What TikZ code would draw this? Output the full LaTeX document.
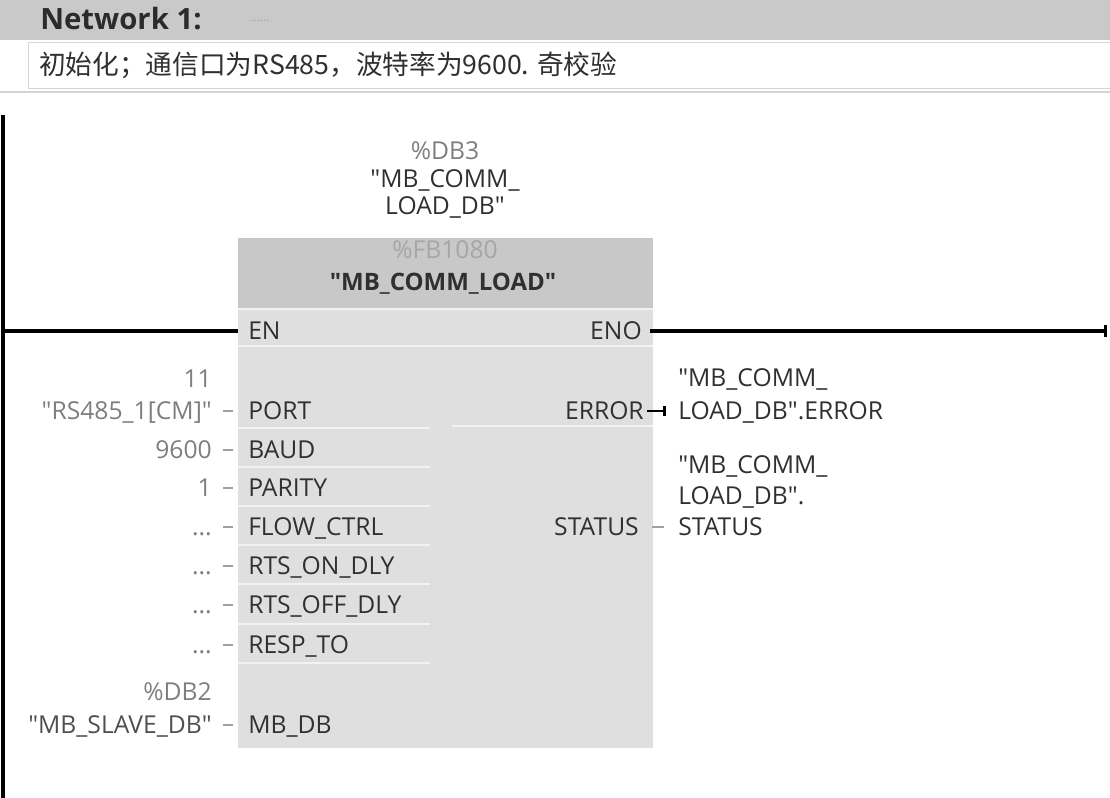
\documentclass[tikz,border=0pt]{standalone}
\usepackage{fontspec}
\setmainfont{Open Sans}[Ligatures=TeXOff]
\newfontfamily\cjk{Noto Sans CJK SC}
\usepackage{tikz}
\usetikzlibrary{positioning,calc,arrows.meta}

\definecolor{barfill}{HTML}{C9C9C9}
\definecolor{fbhead}{HTML}{C8C8C8}
\definecolor{fbbody}{HTML}{DFDFDF}
\definecolor{sepwhite}{HTML}{F2F2F2}
\definecolor{txtdark}{HTML}{303030}
\definecolor{opgray}{HTML}{7E7E7E}
\definecolor{txtlight}{HTML}{A6A6A6}
\definecolor{stubgray}{HTML}{A0A0A0}
\definecolor{boxline}{HTML}{D4D4D4}

\begin{document}
\begin{tikzpicture}[x=0.75pt,y=-0.75pt,
    lbl/.style={font=\fontsize{18.5}{22}\selectfont, inner sep=0pt, text height=13.2pt, text depth=0pt},
    pinname/.style={lbl, text=txtdark},
    operand/.style={lbl, text=opgray, anchor=east},
    outtxt/.style={lbl, text=txtdark, anchor=west},
    wire/.style={line width=2.4pt, black},
    stub/.style={line width=1.3pt, stubgray},
    rowsep/.style={line width=1.6pt, sepwhite}]

    \useasboundingbox (0,0) rectangle (1110,798);

    % Title bar
    \fill[barfill] (0,0) rectangle (1110,40);
    \node[anchor=west, inner sep=0pt, text=txtdark!90!black, font=\fontsize{22}{26}\selectfont\bfseries] (title) at (40,19) {Network 1:};
    \node[anchor=west, inner sep=0pt, text=txtlight, font=\fontsize{9}{10}\selectfont] (titledots) at (250,21) {......};

    % Comment line
    \draw[boxline, fill=white] (28,42) rectangle (1113,88);
    \node[anchor=west, inner sep=0pt, text=txtdark, font=\cjk\fontsize{20}{23}\selectfont] (comment) at (39,65) {初始化；通信口为RS485，波特率为9600. 奇校验};
    \draw[boxline, line width=1pt] (0,92) -- (1110,92);

    % Power rail
    \draw[line width=2.6pt] (3,115) -- (3,798);

    % Instance DB above the box
    \node[lbl, text=opgray] (idb) at (445,151) {\%DB3};
    \node[lbl, text=txtdark] (idbname) at (445,179) {"MB\_COMM\_};
    \node[lbl, text=txtdark] (idbname2) at (445,206) {LOAD\_DB"};

    % Function block
    \fill[fbhead] (238,238) rectangle (653,308);
    \fill[fbbody] (238,308) rectangle (653,748);
    \node[lbl, text=txtlight] (fbno) at (445,250) {\%FB1080};
    \node[inner sep=0pt, text=txtdark, font=\fontsize{18}{21}\selectfont\bfseries] (fbname) at (443,284) {"MB\_COMM\_LOAD"};

    % Row separators
    \draw[rowsep] (238,309) -- (653,309);
    \draw[rowsep] (238,346) -- (653,346);
    \draw[rowsep] (238,428) -- (430,428);
    \draw[rowsep] (238,467) -- (430,467);
    \draw[rowsep] (238,506) -- (430,506);
    \draw[rowsep] (238,545) -- (430,545);
    \draw[rowsep] (238,584) -- (430,584);
    \draw[rowsep] (238,624) -- (430,624);
    \draw[rowsep] (238,663) -- (430,663);
    \draw[rowsep] (452,426) -- (653,426);

    % Pins
    \node[pinname, anchor=west] (en) at (248,331) {EN};
    \node[pinname, anchor=east] (eno) at (642,331) {ENO};
    \node[pinname, anchor=west] (port) at (248,411) {PORT};
    \node[pinname, anchor=west] (baud) at (248,450) {BAUD};
    \node[pinname, anchor=west] (parity) at (248,488) {PARITY};
    \node[pinname, anchor=west] (flow) at (248,527) {FLOW\_CTRL};
    \node[pinname, anchor=west] (rtson) at (248,566) {RTS\_ON\_DLY};
    \node[pinname, anchor=west] (rtsoff) at (248,605) {RTS\_OFF\_DLY};
    \node[pinname, anchor=west] (respto) at (248,645) {RESP\_TO};
    \node[pinname, anchor=west] (mbdb) at (248,725) {MB\_DB};
    \node[pinname, anchor=east] (error) at (644,411) {ERROR};
    \node[pinname, anchor=east] (status) at (639,527) {STATUS};

    % Input operands
    \node[operand] (portno) at (212,379) {11};
    \node[operand] (portv) at (212,411) {"RS485\_1[CM]"};
    \node[operand] (baudv) at (212,450) {9600};
    \node[operand] (parityv) at (212,488) {1};
    \node[operand] (flowv) at (212,527) {...};
    \node[operand] (rtsonv) at (212,566) {...};
    \node[operand] (rtsoffv) at (212,605) {...};
    \node[operand] (resptov) at (212,645) {...};
    \node[operand] (mbdbno) at (212,692) {\%DB2};
    \node[operand, text=txtdark!85] (mbdbv) at (212,725) {"MB\_SLAVE\_DB"};

    % Output operands
    \node[outtxt] (errv) at (678,378) {"MB\_COMM\_};
    \node[outtxt] (errv2) at (678,411) {LOAD\_DB".ERROR};
    \node[outtxt] (statv) at (678,465) {"MB\_COMM\_};
    \node[outtxt] (statv2) at (678,496) {LOAD\_DB".};
    \node[outtxt] (statv3) at (678,527) {STATUS};

    % Enable wires
    \coordinate (railen) at (3,331);
    \coordinate (enoend) at (1107,331);
    \draw[wire] (railen) -- ($(en.west)+(-10,0)$);
    \draw[wire, -{Bar[width=9pt,line width=2pt]}] ($(eno.east)+(8,0)$) -- (enoend);
    \draw[wire, line width=2pt, -{Bar[width=8pt,line width=2pt]}] ($(error.east)+(3,0)$) -- ($(error.east)+(22,0)$);

    % Short input and output stubs
    \draw[stub] ($(port.west)+(-25,0)$) -- ($(port.west)+(-15,0)$);
    \draw[stub] ($(baud.west)+(-25,0)$) -- ($(baud.west)+(-15,0)$);
    \draw[stub] ($(parity.west)+(-25,0)$) -- ($(parity.west)+(-15,0)$);
    \draw[stub] ($(flow.west)+(-25,0)$) -- ($(flow.west)+(-15,0)$);
    \draw[stub] ($(rtson.west)+(-25,0)$) -- ($(rtson.west)+(-15,0)$);
    \draw[stub] ($(rtsoff.west)+(-25,0)$) -- ($(rtsoff.west)+(-15,0)$);
    \draw[stub] ($(respto.west)+(-25,0)$) -- ($(respto.west)+(-15,0)$);
    \draw[stub] ($(mbdb.west)+(-25,0)$) -- ($(mbdb.west)+(-15,0)$);
    \draw[stub] ($(status.east)+(13,0)$) -- ($(status.east)+(25,0)$);
\end{tikzpicture}
\end{document}
